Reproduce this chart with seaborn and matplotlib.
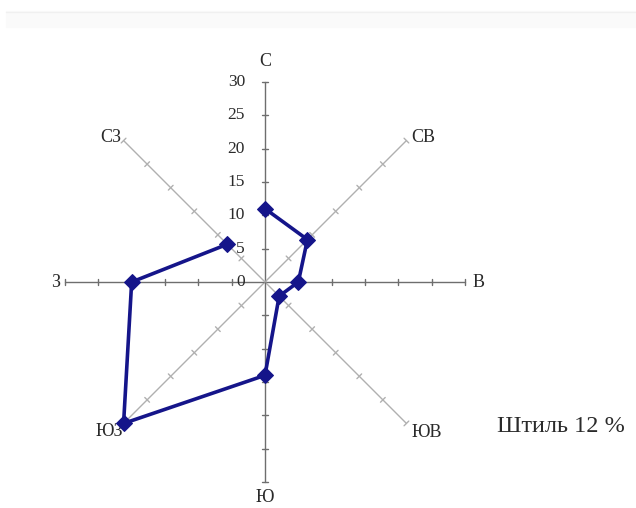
import numpy as np
import pandas as pd
import matplotlib
matplotlib.use("Agg")
import matplotlib.pyplot as plt
import seaborn as sns

# ---- data ----
directions = ["С", "СВ", "В", "ЮВ", "Ю", "ЮЗ", "З", "СЗ"]
angles_deg = [90, 45, 0, -45, -90, -135, 180, 135]
values = [11, 9, 5, 3, 14, 30, 20, 8]
radial_ticks = [0, 5, 10, 15, 20, 25, 30]
calm_text = "Штиль 12 %"

sns.set_theme(style="white")
plt.rcParams["font.family"] = ["Liberation Serif", "DejaVu Serif"]

W, H = 636, 508
fig = plt.figure(figsize=(W / 100, H / 100), dpi=100)
ax = fig.add_axes([0, 0, 1, 1])
ax.set_axis_off()

# pixel geometry -> data units
cx, cy = 265, 282
ppu = 200 / 30.0
ax.set_xlim(-cx / ppu, (W - cx) / ppu)
ax.set_ylim(-(H - cy) / ppu, cy / ppu)

# faint band at top
fig.patches.append(plt.Rectangle((6 / W, 1 - 27 / H), 1, 16 / H,
                                 transform=fig.transFigure, color="#fafafa", zorder=0))
fig.lines.append(plt.Line2D([6 / W, 1], [1 - 12 / H] * 2, transform=fig.transFigure,
                            color="#f0f0f0", lw=1))

rmax = radial_ticks[-1]
tick_half = 0.5
for d, a in zip(directions, angles_deg):
    t = np.deg2rad(a)
    ux, uy = np.cos(t), np.sin(t)
    col = "#6e6e6e" if a % 90 == 0 else "#b0b0b0"
    ax.plot([0, rmax * ux], [0, rmax * uy], color=col, lw=1.0, zorder=1)
    px, py = -uy, ux
    for r in radial_ticks[1:]:
        ax.plot([r * ux - tick_half * px, r * ux + tick_half * px],
                [r * uy - tick_half * py, r * uy + tick_half * py],
                color=col, lw=1.0, zorder=1)

# direction labels
lab_fs = 13
tc = "#2a2a2a"
ax.text(0, 33.0, "С", ha="center", va="center", fontsize=lab_fs, color=tc)
ax.text(22.0, 21.7, "СВ", ha="left", va="center", fontsize=lab_fs, color=tc)
ax.text(31.2, -0.1, "В", ha="left", va="center", fontsize=lab_fs, color=tc)
ax.text(22.0, -22.6, "ЮВ", ha="left", va="center", fontsize=lab_fs, color=tc)
ax.text(0, -32.4, "Ю", ha="center", va="center", fontsize=lab_fs, color=tc)
ax.text(-21.3, -22.5, "ЮЗ", ha="right", va="center", fontsize=lab_fs, color=tc)
ax.text(-30.7, -0.1, "З", ha="right", va="center", fontsize=lab_fs, color=tc)
ax.text(-21.5, 21.7, "СЗ", ha="right", va="center", fontsize=lab_fs, color=tc)

# radial tick labels on north axis
for r in radial_ticks:
    ax.text(-3.0, r, str(r), ha="right", va="center", fontsize=12.5, color=tc)

# polygon
theta = np.deg2rad(angles_deg)
xs = [v * np.cos(t) for v, t in zip(values, theta)]
ys = [v * np.sin(t) for v, t in zip(values, theta)]
df = pd.DataFrame({"x": xs + xs[:1], "y": ys + ys[:1], "order": range(len(xs) + 1)})
sns.lineplot(data=df, x="x", y="y", sort=False, ax=ax, color="#15158a", lw=2.6,
             marker="D", markersize=8.5, markeredgecolor="#15158a", zorder=3)
ax.set_axis_off()

ax.text(34.8, -21.6, calm_text, ha="left", va="center", fontsize=17.5, color=tc)

fig.savefig("out.png", dpi=100)
